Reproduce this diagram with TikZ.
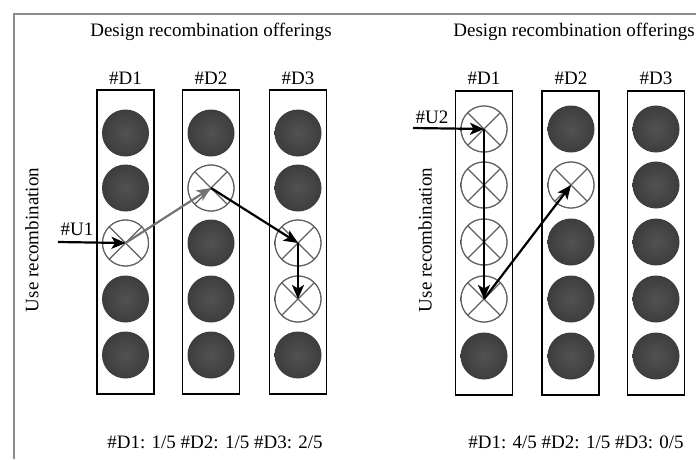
\documentclass[tikz,border=0pt]{standalone}
\usepackage{fontspec}
\setmainfont{Liberation Serif}
\usetikzlibrary{arrows.meta}
\begin{document}
\begin{tikzpicture}[x=1pt,y=-1pt,
  every node/.style={font=\fontsize{19}{23}\selectfont},
  colbox/.style={draw=black,line width=1.4pt,minimum width=57pt,minimum height=304pt,inner sep=0pt,outer sep=0pt},
  ball/.style={circle,minimum size=47pt,inner sep=0pt,outer sep=0pt,inner color=black!68,outer color=black!76,draw=none},
  xball/.style={circle,minimum size=46pt,inner sep=0pt,outer sep=0pt,draw=black!62,line width=1.2pt,fill=white},
  xline/.style={draw=black!62,line width=1.2pt},
  arr/.style={line width=2.2pt,black,-{Stealth[length=14pt,width=12pt,inset=3.5pt]}},
  garr/.style={line width=2.2pt,black!55,-{Stealth[length=14pt,width=12pt,inset=3.5pt]}},
  frame/.style={draw=black!45,line width=2pt}]
\useasboundingbox (0,0) rectangle (696,459);
\draw[frame] (14,459) -- (14,14) -- (697,14);

% ---------- left panel ----------
\node (lt) at (211,32) {Design recombination offerings};
\node (lh1) at (125.5,78) {\#D1};
\node (lh2) at (211,78) {\#D2};
\node (lh3) at (298,78) {\#D3};
\node[colbox] (lb1) at (125.5,242) {};
\node[colbox] (lb2) at (211,242) {};
\node[colbox] (lb3) at (298,242) {};
\node[rotate=90] (lur) at (32,240) {Use recombination};
\node (lsum) at (215,442) {\#D1: 1/5 \#D2: 1/5 \#D3: 2/5};

\foreach \c/\x in {1/125.5,2/211,3/298}{
  \foreach \r/\y in {1/133,2/188,3/243,4/299,5/355}{
    \node[ball] (l\c\r) at (\x,\y) {};
  }
}
\foreach \n in {l13,l22,l33,l34}{
  \node[xball] (\n) at (\n.center) {};
  \draw[xline] (\n.north east) -- (\n.south west) (\n.north west) -- (\n.south east);
}
\coordinate (u1) at (58,242);
\node (lu1) at (77,229) {\#U1};
\draw[arr] (u1) -- (l13.center);
\draw[garr] (l13.center) -- (l22.center);
\draw[arr] (l22.center) -- (l33.center);
\draw[arr] (l33.center) -- (l34.center);

% ---------- right panel ----------
\node (rt) at (574,32) {Design recombination offerings};
\node (rh1) at (484,78) {\#D1};
\node (rh2) at (571,78) {\#D2};
\node (rh3) at (656,78) {\#D3};
\node[colbox] (rb1) at (484,243) {};
\node[colbox] (rb2) at (570.5,243) {};
\node[colbox] (rb3) at (656,243) {};
\node[rotate=90] (rur) at (425,240) {Use recombination};
\node (rsum) at (576,442) {\#D1: 4/5 \#D2: 1/5 \#D3: 0/5};

\foreach \c/\x in {1/484,2/571,3/656}{
  \foreach \r/\y in {1/129,2/185,3/242,4/299,5/356}{
    \node[ball] (r\c\r) at (\x,\y) {};
  }
}
\foreach \n in {r11,r12,r13,r14,r22}{
  \node[xball] (\n) at (\n.center) {};
  \draw[xline] (\n.north east) -- (\n.south west) (\n.north west) -- (\n.south east);
}
\coordinate (u2) at (413,128);
\node (ru2) at (432,117) {\#U2};
\draw[arr] (u2) -- (r11.center);
\draw[arr] (r11.center) -- (r14.center);
\draw[arr] (r14.center) -- (r22.center);
\end{tikzpicture}
\end{document}
